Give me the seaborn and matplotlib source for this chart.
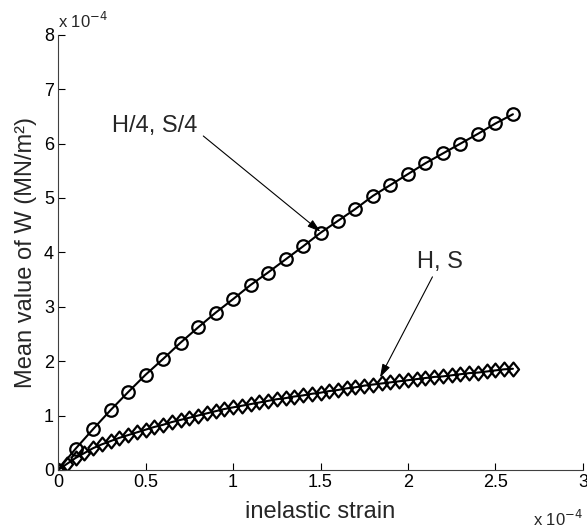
import numpy as np
import pandas as pd
import seaborn as sns
import matplotlib.pyplot as plt

sns.set_style("ticks")
plt.rcParams['font.family'] = ['Liberation Sans', 'DejaVu Sans']

# data (units of 1e-4)

strain_c = [0.0, 0.1, 0.2, 0.3, 0.4, 0.5, 0.6, 0.7, 0.8, 0.9, 1.0, 1.1, 1.2, 1.3,
            1.4, 1.5, 1.6, 1.7, 1.8, 1.9, 2.0, 2.1, 2.2, 2.3, 2.4, 2.5, 2.6]
w_quarter = [0.0, 0.39, 0.75, 1.10, 1.43, 1.75, 2.04, 2.34, 2.62, 2.89, 3.14, 3.40, 3.63, 3.87,
             4.11, 4.36, 4.58, 4.80, 5.04, 5.24, 5.44, 5.64, 5.82, 6.00, 6.18, 6.37, 6.54]

strain_d = [0.0, 0.05, 0.1, 0.15, 0.2, 0.25, 0.3, 0.35, 0.4, 0.45, 0.5, 0.55, 0.6, 0.65,
            0.7, 0.75, 0.8, 0.85, 0.9, 0.95, 1.0, 1.05, 1.1, 1.15, 1.2, 1.25, 1.3, 1.35,
            1.4, 1.45, 1.5, 1.55, 1.6, 1.65, 1.7, 1.75, 1.8, 1.85, 1.9, 1.95, 2.0, 2.05,
            2.1, 2.15, 2.2, 2.25, 2.3, 2.35, 2.4, 2.45, 2.5, 2.55, 2.6]
w_full = [0.0, 0.11, 0.22, 0.31, 0.40, 0.47, 0.53, 0.59, 0.64, 0.69, 0.74, 0.79, 0.83, 0.88,
          0.92, 0.96, 1.00, 1.04, 1.08, 1.12, 1.15, 1.18, 1.21, 1.24, 1.27, 1.30, 1.32, 1.35,
          1.37, 1.40, 1.42, 1.45, 1.47, 1.50, 1.52, 1.55, 1.57, 1.59, 1.61, 1.63, 1.65, 1.67,
          1.69, 1.71, 1.72, 1.74, 1.76, 1.78, 1.79, 1.81, 1.83, 1.85, 1.86]

x_ticks = [0, 0.5, 1, 1.5, 2, 2.5, 3]
x_ticklabels = ["0", "0.5", "1", "1.5", "2", "2.5", "3"]
y_ticks = [0, 1, 2, 3, 4, 5, 6, 7, 8]

# matlab-like diamond, a bit taller than wide
diamond = [(-0.8, 0), (0, 1), (0.8, 0), (0, -1), (-0.8, 0)]

fig = plt.figure(figsize=(5.87, 5.28), dpi=100)
ax = fig.add_axes([0.099, 0.110, 0.894, 0.824])

sns.lineplot(x=strain_c, y=w_quarter, ax=ax, color="k", lw=1.5, marker="o",
             markersize=9, markerfacecolor="none", markeredgecolor="k", markeredgewidth=1.6)
sns.lineplot(x=strain_d, y=w_full, ax=ax, color="k", lw=1.5, marker=diamond,
             markersize=10, markerfacecolor="none", markeredgecolor="k", markeredgewidth=1.6)

ax.set_xlim(0, 3)
ax.set_ylim(0, 8)
ax.set_xticks(x_ticks)
ax.set_xticklabels(x_ticklabels)
ax.set_yticks(y_ticks)
ax.tick_params(direction="in", length=5, labelsize=13, colors="k", pad=3)
sns.despine(ax=ax)
for s in ["left", "bottom"]:
    ax.spines[s].set_color("#404040")
ax.set_xlabel("inelastic strain", fontsize=17, labelpad=7)
ax.set_ylabel("Mean value of W (MN/m\u00b2)", fontsize=17, labelpad=5)

ax.text(0.0, 1.008, "x 10$^{-4}$", transform=ax.transAxes, fontsize=12, ha="left", va="bottom")
ax.text(1.0, -0.09, "x 10$^{-4}$", transform=ax.transAxes, fontsize=12, ha="right", va="top")

arrow = dict(arrowstyle="-|>,head_length=0.8,head_width=0.25", color="k", lw=0.8,
             shrinkA=0, shrinkB=0)
ax.annotate("", xy=(1.5, 4.38), xytext=(0.83, 6.14), arrowprops=arrow)
ax.text(0.31, 6.33, "H/4, S/4", fontsize=17, va="center")
ax.annotate("", xy=(1.84, 1.70), xytext=(2.14, 3.55), arrowprops=arrow)
ax.text(2.05, 3.82, "H, S", fontsize=17, va="center")

fig.savefig("out.png", dpi=100)
plt.close()
